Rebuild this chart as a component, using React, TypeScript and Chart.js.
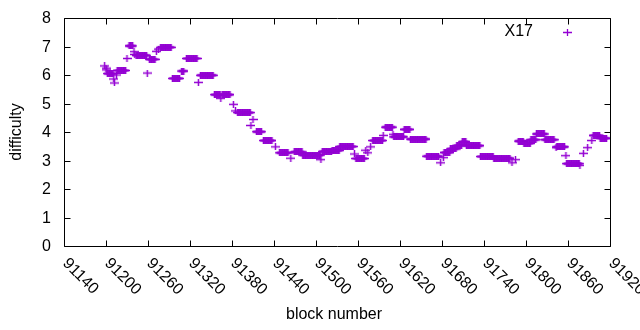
import { useEffect, useRef } from "react";
import { Chart, registerables } from "chart.js";

Chart.register(...registerables);

// Runs of consecutive blocks sharing one difficulty value
const runStart = [
  91198, 91200, 91201, 91202, 91211, 91212, 91215, 91216, 91230, 91233,
  91240, 91241, 91243, 91259, 91262, 91272, 91275, 91278, 91295, 91308,
  91315, 91332, 91335, 91355, 91364, 91366, 91382, 91385, 91388, 91407,
  91410, 91415, 91425, 91442, 91448, 91464, 91469, 91481, 91507, 91509,
  91523, 91534, 91555, 91557, 91571, 91574, 91578, 91581, 91596, 91599,
  91610, 91611, 91626, 91635, 91658, 91678, 91682, 91683, 91692, 91701,
  91709, 91715, 91735, 91754, 91780, 91785, 91789, 91797, 91807, 91815,
  91827, 91843, 91844, 91857, 91858, 91877, 91882, 91888, 91894, 91896,
  91906,
];
const runEnd = [
  91198, 91200, 91201, 91210, 91211, 91212, 91215, 91228, 91230, 91238,
  91240, 91241, 91258, 91259, 91270, 91272, 91275, 91293, 91305, 91311,
  91330, 91332, 91353, 91363, 91364, 91377, 91382, 91385, 91406, 91407,
  91410, 91422, 91437, 91442, 91460, 91464, 91480, 91506, 91507, 91522,
  91533, 91553, 91555, 91569, 91571, 91574, 91578, 91595, 91596, 91609,
  91610, 91625, 91634, 91657, 91675, 91678, 91682, 91691, 91700, 91708,
  91714, 91734, 91753, 91777, 91780, 91785, 91796, 91806, 91814, 91826,
  91840, 91843, 91855, 91857, 91876, 91877, 91882, 91888, 91894, 91905,
  91915,
];
const runValue = [
  6.32, 6.24, 6.18, 6.05, 5.86, 5.72, 6.0, 6.16, 6.58, 7.02,
  6.82, 6.72, 6.69, 6.07, 6.55, 6.83, 6.91, 6.97, 5.88, 6.14,
  6.58, 5.74, 5.99, 5.31, 5.18, 5.31, 4.97, 4.74, 4.68, 4.23,
  4.44, 4.01, 3.7, 3.48, 3.27, 3.08, 3.3, 3.19, 3.03, 3.32,
  3.35, 3.49, 3.23, 3.07, 3.36, 3.27, 3.48, 3.7, 3.88, 4.17,
  3.92, 3.83, 4.09, 3.75, 3.15, 2.92, 3.1, 3.28, 3.41, 3.53,
  3.66, 3.52, 3.14, 3.08, 2.92, 3.03, 3.68, 3.6, 3.73, 3.93,
  3.73, 3.45, 3.48, 3.17, 2.89, 2.83, 3.25, 3.45, 3.7, 3.88,
  3.78,
];

const xTickValues = [
  91140, 91200, 91260, 91320, 91380, 91440, 91500, 91560, 91620, 91680,
  91740, 91800, 91860, 91920,
];
const yTickValues = [0, 1, 2, 3, 4, 5, 6, 7, 8];
const seriesName = "X17";
const xTitle = "block number";
const yTitle = "difficulty";
const seriesColor = "#9400D3";
const FONT = '16px "Liberation Sans", Arial, sans-serif';

function buildPoints() {
  const pts: { x: number; y: number }[] = [];
  for (let i = 0; i < runStart.length; i++) {
    for (let b = runStart[i]; b <= runEnd[i]; b++) {
      pts.push({ x: b, y: runValue[i] });
    }
  }
  return pts;
}

function makeCross(color: string) {
  const c = document.createElement("canvas");
  c.width = 9;
  c.height = 7;
  const g = c.getContext("2d")!;
  g.fillStyle = color;
  g.fillRect(0, 2.75, 9, 1.5);
  g.fillRect(3.75, 0, 1.5, 7);
  return c;
}

const framePlugin = {
  id: "gnuframe",
  afterDraw(chart: any) {
    const { ctx, chartArea: a } = chart;
    const xs = chart.scales.x;
    const ys = chart.scales.y;
    const L = Math.round(a.left);
    const R = Math.round(a.right);
    const T = Math.round(a.top);
    const B = Math.round(a.bottom);
    ctx.save();
    ctx.strokeStyle = "#000";
    ctx.lineWidth = 1;
    ctx.beginPath();
    ctx.rect(L + 0.5, T + 0.5, R - L, B - T);
    ctx.stroke();
    const tl = 6;
    ctx.beginPath();
    for (const v of xTickValues) {
      const p = Math.round(xs.getPixelForValue(v)) + 0.5;
      ctx.moveTo(p, B + 0.5);
      ctx.lineTo(p, B + 0.5 - tl);
      ctx.moveTo(p, T + 0.5);
      ctx.lineTo(p, T + 0.5 + tl);
    }
    for (const v of yTickValues) {
      const p = Math.round(ys.getPixelForValue(v)) + 0.5;
      ctx.moveTo(L + 0.5, p);
      ctx.lineTo(L + 0.5 + tl, p);
      ctx.moveTo(R + 0.5, p);
      ctx.lineTo(R + 0.5 - tl, p);
    }
    ctx.stroke();

    ctx.fillStyle = "#000";
    ctx.font = FONT;
    ctx.textAlign = "right";
    ctx.textBaseline = "middle";
    for (const v of yTickValues) {
      ctx.fillText(String(v), L - 13, ys.getPixelForValue(v) + 1);
    }
    for (const v of xTickValues) {
      const p = xs.getPixelForValue(v);
      ctx.save();
      ctx.translate(p + 1, B + 15);
      ctx.rotate(Math.PI / 4);
      ctx.textAlign = "left";
      ctx.textBaseline = "middle";
      ctx.fillText(String(v), 0, 0);
      ctx.restore();
    }
    ctx.textAlign = "center";
    ctx.fillText(xTitle, (L + R) / 2 - 3, 315);
    ctx.save();
    ctx.translate(17, (T + B) / 2);
    ctx.rotate(-Math.PI / 2);
    ctx.fillText(yTitle, 0, 0);
    ctx.restore();

    // key
    ctx.textAlign = "right";
    ctx.fillText(seriesName, 533, 32);
    ctx.strokeStyle = seriesColor;
    ctx.lineWidth = 1.3;
    ctx.beginPath();
    ctx.moveTo(563, 32.5);
    ctx.lineTo(572, 32.5);
    ctx.moveTo(567.5, 29);
    ctx.lineTo(567.5, 36);
    ctx.stroke();
    ctx.restore();
  },
};

export default function App() {
  const ref = useRef<HTMLCanvasElement>(null);
  useEffect(() => {
    if (!ref.current) return;
    const cross = makeCross(seriesColor);
    const chart = new Chart(ref.current, {
      type: "scatter",
      data: {
        datasets: [
          {
            label: seriesName,
            data: buildPoints(),
            pointStyle: cross as any,
            pointRadius: 4,
            borderColor: seriesColor,
            backgroundColor: seriesColor,
            showLine: false,
          },
        ],
      },
      options: {
        responsive: false,
        animation: false,
        events: [],
        layout: { padding: { top: 18, right: 30, left: 0, bottom: 0 } },
        plugins: { legend: { display: false }, tooltip: { enabled: false } },
        scales: {
          x: {
            type: "linear",
            min: 91140,
            max: 91920,
            ticks: { display: false },
            grid: { display: false },
            border: { display: false },
            afterFit: (s: any) => {
              s.height = 84;
            },
          },
          y: {
            type: "linear",
            min: 0,
            max: 8,
            ticks: { display: false },
            grid: { display: false },
            border: { display: false },
            afterFit: (s: any) => {
              s.width = 64;
            },
          },
        },
      },
      plugins: [framePlugin],
    });
    return () => chart.destroy();
  }, []);
  return (
    <div style={{ position: "absolute", left: 0, top: 0, width: 640, height: 330 }}>
      <canvas ref={ref} width={640} height={330} />
    </div>
  );
}
